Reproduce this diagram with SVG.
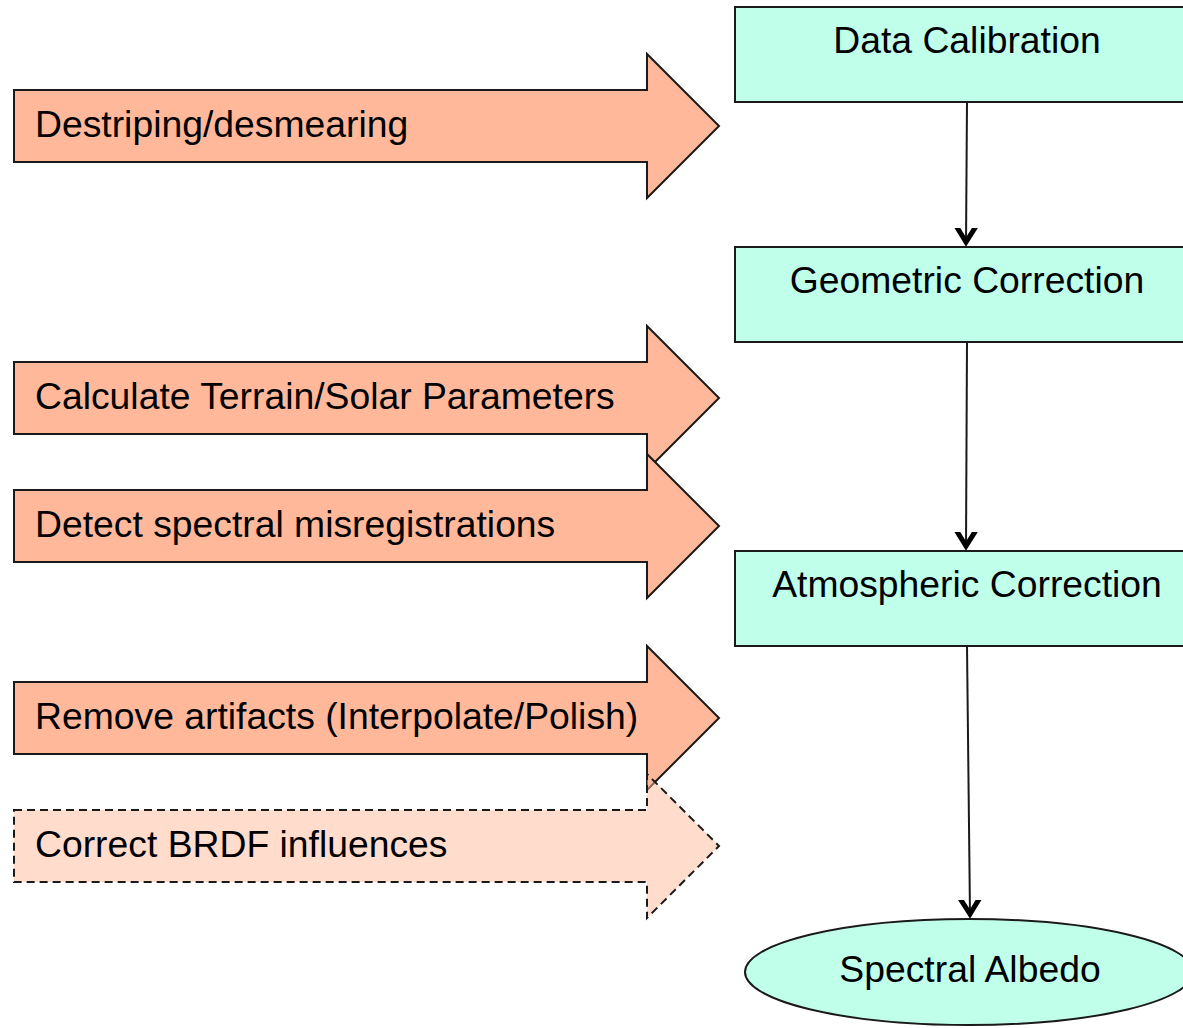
<svg xmlns="http://www.w3.org/2000/svg" width="1183" height="1028" viewBox="0 0 1183 1028">
<defs>
<style>
.txt{font-family:"Liberation Sans",Arial,sans-serif;font-size:37.3px;fill:#000}
.mid{text-anchor:middle}
.box{fill:#C0FFEA;stroke:#1a1a1a;stroke-width:2}
.arr{fill:#FFB99A;stroke:#1a1a1a;stroke-width:2;stroke-linejoin:miter}
.arrd{fill:#FFB99A;fill-opacity:0.5;stroke:#1a1a1a;stroke-width:2;stroke-dasharray:8,5}
.conn{fill:none;stroke:#1a1a1a;stroke-width:2}
</style>
<marker id="vhead" markerUnits="userSpaceOnUse" markerWidth="30" markerHeight="30" viewBox="-15 -15 30 30" refX="0" refY="0" orient="auto">
<path d="M-17,-10 L-1,0 L-17,10" fill="none" stroke="#000" stroke-width="5" stroke-linecap="round" stroke-linejoin="miter"/>
</marker>
</defs>
<rect width="1183" height="1028" fill="#fff"/>
<g id="arrow-destriping">
<path class="arr" d="M14,90 H647 V54 L719,126 L647,198 V162 H14 Z"/>
<text class="txt" x="35" y="137">Destriping/desmearing</text>
</g>
<g id="arrow-terrain">
<path class="arr" d="M14,362 H647 V326 L719,398 L647,470 V434 H14 Z"/>
<text class="txt" x="35" y="409">Calculate Terrain/Solar Parameters</text>
</g>
<g id="arrow-spectral">
<path class="arr" d="M14,490 H647 V454 L719,526 L647,598 V562 H14 Z"/>
<text class="txt" x="35" y="537">Detect spectral misregistrations</text>
</g>
<g id="arrow-artifacts">
<path class="arr" d="M14,682 H647 V646 L719,718 L647,790 V754 H14 Z"/>
<text class="txt" x="35" y="729">Remove artifacts (Interpolate/Polish)</text>
</g>
<g id="arrow-brdf">
<path class="arrd" d="M14,810 H647 V774 L719,846 L647,918 V882 H14 Z"/>
<text class="txt" x="35" y="857">Correct BRDF influences</text>
</g>
<g id="node-calibration">
<rect class="box" x="735" y="7" width="470" height="95"/>
<text class="txt mid" x="967" y="53">Data Calibration</text>
</g>
<g id="node-geometric">
<rect class="box" x="735" y="247" width="470" height="95"/>
<text class="txt mid" x="967" y="293">Geometric Correction</text>
</g>
<g id="node-atmospheric">
<rect class="box" x="735" y="551" width="470" height="95"/>
<text class="txt mid" x="967" y="597">Atmospheric Correction</text>
</g>
<g id="node-albedo">
<ellipse class="box" cx="969" cy="972" rx="224" ry="53"/>
<text class="txt mid" x="970" y="982">Spectral Albedo</text>
</g>
<g id="connectors">
<line class="conn" x1="967" y1="102" x2="966" y2="243" marker-end="url(#vhead)"/>
<line class="conn" x1="967" y1="342" x2="966" y2="547" marker-end="url(#vhead)"/>
<line class="conn" x1="967" y1="646" x2="970" y2="915" marker-end="url(#vhead)"/>
</g>
</svg>
